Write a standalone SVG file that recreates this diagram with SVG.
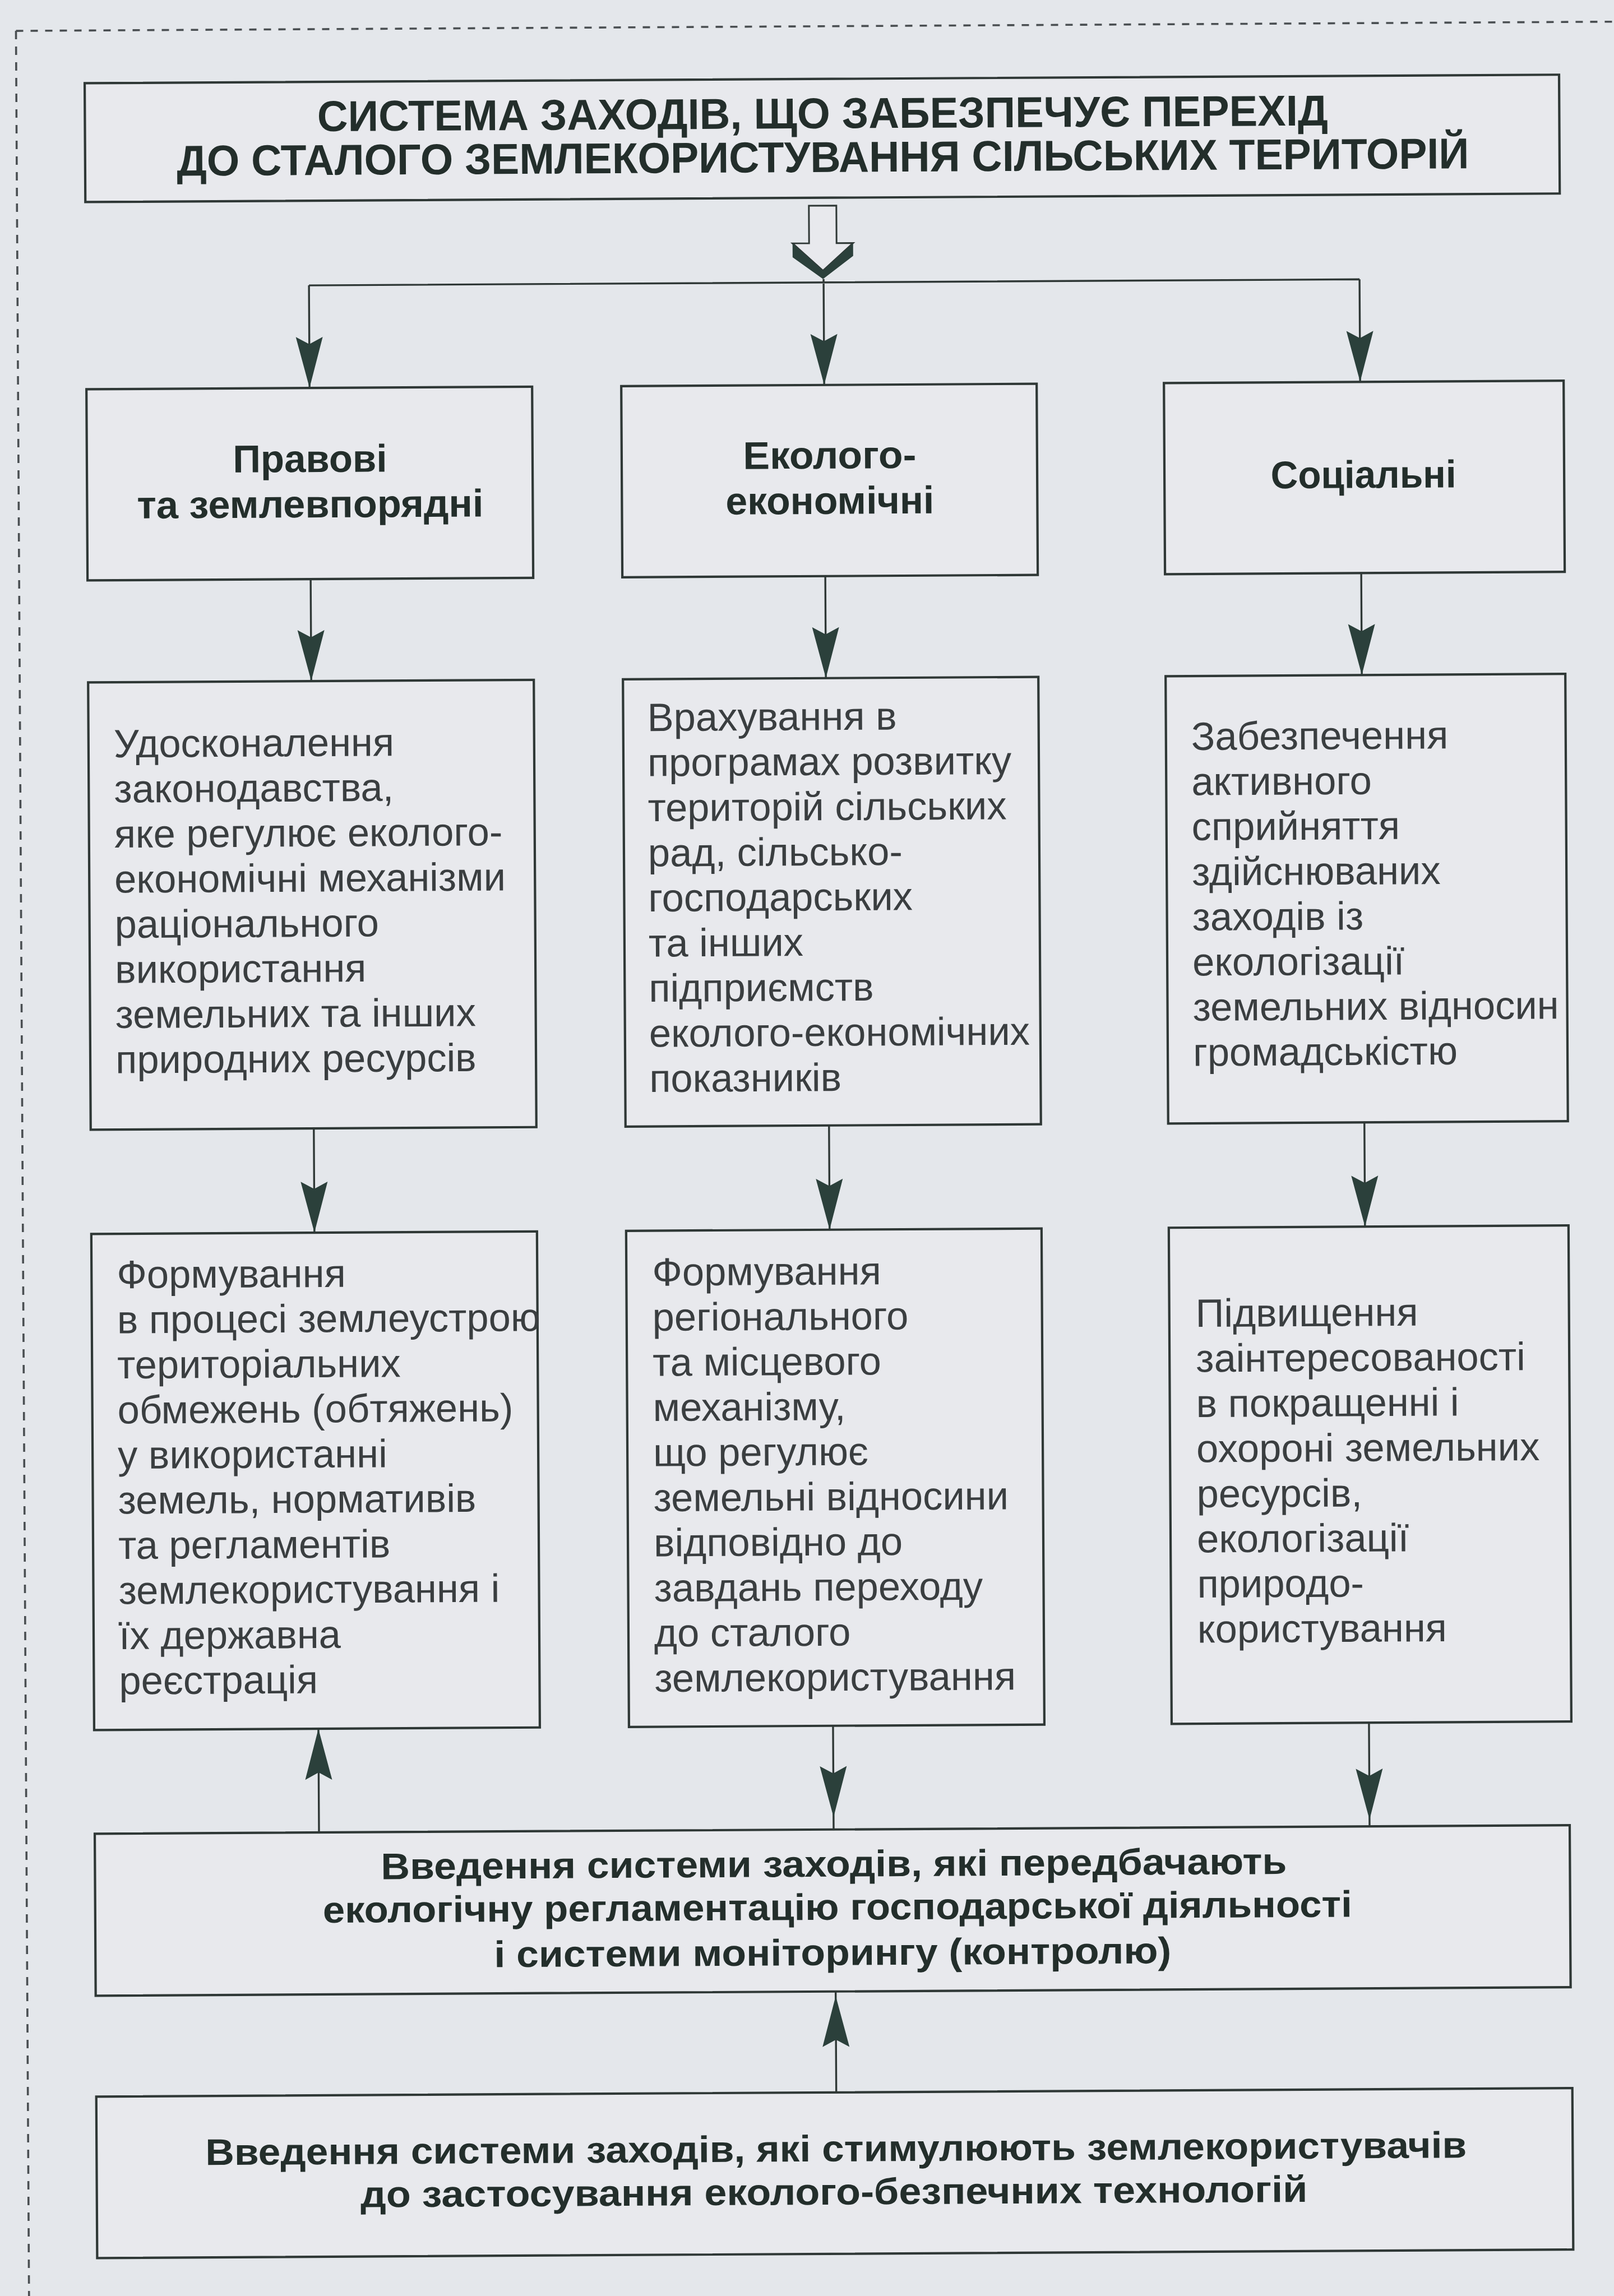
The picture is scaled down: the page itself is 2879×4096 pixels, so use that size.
<svg xmlns="http://www.w3.org/2000/svg" width="2879" height="4096" viewBox="0 0 2879 4096">
<defs>
<style>
.box{fill:#e8e9ed;stroke:#2f3836;stroke-width:4.2}
.ln{fill:none;stroke:#2f3836;stroke-width:3.4}
.dash{fill:none;stroke:#4a4f52;stroke-width:3.6}
.ttl{font-family:"Liberation Sans",Arial,sans-serif;font-weight:bold;font-size:77px;fill:#232e2b;text-anchor:middle}
.lbl{font-family:"Liberation Sans",Arial,sans-serif;font-weight:bold;font-size:69px;fill:#232e2b;text-anchor:middle}
.btm{font-family:"Liberation Sans",Arial,sans-serif;font-weight:bold;font-size:66px;fill:#232e2b;text-anchor:middle}
.txt{font-family:"Liberation Sans",Arial,sans-serif;font-size:70.5px;fill:#3a3e40}
.ah{fill:#2b403b}
</style>
<path id="ah" class="ah" d="M0,0 L-24,-91 L0,-78 L24,-91 Z"/>
</defs>
<rect x="0" y="0" width="2879" height="4096" fill="#e4e7eb"/>
<g transform="rotate(-0.33 1439 2048)">
<g id="frame">
<path class="dash" d="M40,47 H2920" stroke-dasharray="13 13"/>
<path class="dash" d="M40,47 V4140" stroke-dasharray="15 13"/>
</g>

<g id="title">
<rect class="box" x="162" y="141" width="2630" height="212"/>
<text class="ttl" x="1478" y="229" textLength="1803" lengthAdjust="spacingAndGlyphs">СИСТЕМА ЗАХОДІВ, ЩО ЗАБЕЗПЕЧУЄ ПЕРЕХІД</text>
<text class="ttl" x="1478" y="307" textLength="2305" lengthAdjust="spacingAndGlyphs">ДО СТАЛОГО ЗЕМЛЕКОРИСТУВАННЯ СІЛЬСЬКИХ ТЕРИТОРІЙ</text>
</g>

<g id="big-arrow">
<polygon points="1452.5,367 1501.5,367 1501.5,434 1531,434 1477,483 1423,434 1452.5,434" fill="#e8e9ed" stroke="#2f3836" stroke-width="3"/>
<polygon class="ah" points="1423,434 1477,483 1531,434 1531,457 1477,498 1423,459"/>
</g>

<g id="legal">
<rect class="box" x="162" y="687" width="795" height="341"/>
<text class="lbl" x="560" y="837" textLength="275" lengthAdjust="spacingAndGlyphs">Правові</text>
<text class="lbl" x="560" y="918" textLength="618" lengthAdjust="spacingAndGlyphs">та землевпорядні</text>
</g>
<g id="eco">
<rect class="box" x="1116" y="687" width="741" height="341"/>
<text class="lbl" x="1487" y="836" textLength="309" lengthAdjust="spacingAndGlyphs">Еколого-</text>
<text class="lbl" x="1487" y="917" textLength="372" lengthAdjust="spacingAndGlyphs">економічні</text>
</g>
<g id="social">
<rect class="box" x="2084" y="687" width="713" height="341"/>
<text class="lbl" x="2439" y="876" textLength="331" lengthAdjust="spacingAndGlyphs">Соціальні</text>
</g>

<g id="legal-2">
<rect class="box" x="162" y="1210" width="795" height="798"/>
<text class="txt">
<tspan x="207" y="1344">Удосконалення</tspan>
<tspan x="207" y="1424.5">законодавства,</tspan>
<tspan x="207" y="1505">яке регулює еколого-</tspan>
<tspan x="207" y="1585.5">економічні механізми</tspan>
<tspan x="207" y="1666">раціонального</tspan>
<tspan x="207" y="1746.5">використання</tspan>
<tspan x="207" y="1827">земельних та інших</tspan>
<tspan x="207" y="1907.5">природних ресурсів</tspan>
</text>
</g>
<g id="eco-2">
<rect class="box" x="1116" y="1210" width="741" height="798"/>
<text class="txt">
<tspan x="1159" y="1302.5">Врахування в</tspan>
<tspan x="1159" y="1383">програмах розвитку</tspan>
<tspan x="1159" y="1463.5">територій сільських</tspan>
<tspan x="1159" y="1544">рад, сільсько-</tspan>
<tspan x="1159" y="1624.5">господарських</tspan>
<tspan x="1159" y="1705">та інших</tspan>
<tspan x="1159" y="1785.5">підприємств</tspan>
<tspan x="1159" y="1866">еколого-економічних</tspan>
<tspan x="1159" y="1946.5">показників</tspan>
</text>
</g>
<g id="social-2">
<rect class="box" x="2084" y="1210" width="713" height="798"/>
<text class="txt">
<tspan x="2129" y="1342">Забезпечення</tspan>
<tspan x="2129" y="1422.5">активного</tspan>
<tspan x="2129" y="1503">сприйняття</tspan>
<tspan x="2129" y="1583.5">здійснюваних</tspan>
<tspan x="2129" y="1664">заходів із</tspan>
<tspan x="2129" y="1744.5">екологізації</tspan>
<tspan x="2129" y="1825">земельних відносин</tspan>
<tspan x="2129" y="1905.5">громадськістю</tspan>
</text>
</g>

<g id="legal-3">
<rect class="box" x="162" y="2194" width="795" height="885"/>
<text class="txt">
<tspan x="207" y="2291">Формування</tspan>
<tspan x="207" y="2371.5">в процесі землеустрою</tspan>
<tspan x="207" y="2452">територіальних</tspan>
<tspan x="207" y="2532.5">обмежень (обтяжень)</tspan>
<tspan x="207" y="2613">у використанні</tspan>
<tspan x="207" y="2693.5">земель, нормативів</tspan>
<tspan x="207" y="2774">та регламентів</tspan>
<tspan x="207" y="2854.5">землекористування і</tspan>
<tspan x="207" y="2935">їх державна</tspan>
<tspan x="207" y="3015.5">реєстрація</tspan>
</text>
</g>
<g id="eco-3">
<rect class="box" x="1116" y="2194" width="741" height="885"/>
<text class="txt">
<tspan x="1162" y="2292">Формування</tspan>
<tspan x="1162" y="2372.5">регіонального</tspan>
<tspan x="1162" y="2453">та місцевого</tspan>
<tspan x="1162" y="2533.5">механізму,</tspan>
<tspan x="1162" y="2614">що регулює</tspan>
<tspan x="1162" y="2694.5">земельні відносини</tspan>
<tspan x="1162" y="2775">відповідно до</tspan>
<tspan x="1162" y="2855.5">завдань переходу</tspan>
<tspan x="1162" y="2936">до сталого</tspan>
<tspan x="1162" y="3016.5">землекористування</tspan>
</text>
</g>
<g id="social-3">
<rect class="box" x="2084" y="2194" width="713" height="885"/>
<text class="txt">
<tspan x="2131" y="2371">Підвищення</tspan>
<tspan x="2131" y="2451.5">заінтересованості</tspan>
<tspan x="2131" y="2532">в покращенні і</tspan>
<tspan x="2131" y="2612.5">охороні земельних</tspan>
<tspan x="2131" y="2693">ресурсів,</tspan>
<tspan x="2131" y="2773.5">екологізації</tspan>
<tspan x="2131" y="2854">природо-</tspan>
<tspan x="2131" y="2934.5">користування</tspan>
</text>
</g>

<g id="regulation">
<rect class="box" x="162" y="3264" width="2631" height="289"/>
<text class="btm" x="1480" y="3348" textLength="1616" lengthAdjust="spacingAndGlyphs">Введення системи заходів, які передбачають</text>
<text class="btm" x="1486" y="3425" textLength="1836" lengthAdjust="spacingAndGlyphs">екологічну регламентацію господарської діяльності</text>
<text class="btm" x="1477" y="3506" textLength="1208" lengthAdjust="spacingAndGlyphs">і системи моніторингу (контролю)</text>
</g>
<g id="stimulus">
<rect class="box" x="162" y="3733" width="2633" height="288"/>
<text class="btm" x="1481" y="3856" textLength="2250" lengthAdjust="spacingAndGlyphs">Введення системи заходів, які стимулюють землекористувачів</text>
<text class="btm" x="1477" y="3933" textLength="1689" lengthAdjust="spacingAndGlyphs">до застосування еколого-безпечних технологій</text>
</g>

<g id="connectors">
<path class="ln" d="M560,504 H2434 M560,504 V687 M1478,498 V687 M2434,504 V687 M560,1028 V1210 M1478,1028 V1210 M2434,1028 V1210 M560,2008 V2194 M1479,2008 V2194 M2434,2008 V2194 M562,3264 V3079 M1480,3079 V3264 M2436,3079 V3264 M1482,3733 V3553"/>
<use href="#ah" transform="translate(560,687)"/>
<use href="#ah" transform="translate(1478,687)"/>
<use href="#ah" transform="translate(2434,687)"/>
<use href="#ah" transform="translate(560,1210)"/>
<use href="#ah" transform="translate(1478,1210)"/>
<use href="#ah" transform="translate(2434,1210)"/>
<use href="#ah" transform="translate(560,2194)"/>
<use href="#ah" transform="translate(1479,2194)"/>
<use href="#ah" transform="translate(2434,2194)"/>
<use href="#ah" transform="translate(562,3079) rotate(180)"/>
<use href="#ah" transform="translate(1480,3242)"/>
<use href="#ah" transform="translate(2436,3252)"/>
<use href="#ah" transform="translate(1482,3561) rotate(180)"/>
</g>
</g>
</svg>
